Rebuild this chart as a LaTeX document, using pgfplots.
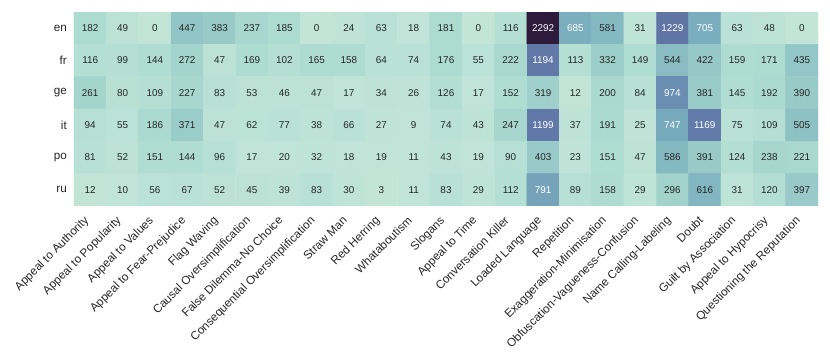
\documentclass[border=0pt]{standalone}
\usepackage{pgfplots}
\pgfplotsset{compat=1.18}
\usepackage{fontspec}
\setmainfont{Liberation Sans}

\begin{document}
\begin{tikzpicture}
\begin{axis}[
    name=hm,
    scale only axis,
    width=744pt, height=194pt,
    xmin=-0.5, xmax=22.5, ymin=-0.5, ymax=5.5,
    y dir=reverse,
    axis line style={draw=none},
    major tick length=0pt,
    xtick={0,...,22},
    xticklabels={Appeal to Authority, Appeal to Popularity, Appeal to Values,
        Appeal to Fear-Prejudice, Flag Waving, Causal Oversimplification,
        False Dilemma-No Choice, Consequential Oversimplification, Straw Man,
        Red Herring, Whataboutism, Slogans, Appeal to Time, Conversation Killer,
        Loaded Language, Repetition, Exaggeration-Minimisation,
        Obfuscation-Vagueness-Confusion, Name Calling-Labeling, Doubt,
        Guilt by Association, Appeal to Hypocrisy, Questioning the Reputation},
    ytick={0,...,5},
    yticklabels={en,fr,ge,it,po,ru},
    x tick label style={font=\fontsize{11.7}{13}\selectfont, text=black!85,
        inner sep=0pt, xshift=-7pt, yshift=-9pt, rotate=45, anchor=north east},
    y tick label style={font=\fontsize{11.7}{13}\selectfont, text=black!85,
        inner sep=0pt, xshift=-7pt},
    colormap={hm}{rgb255(0pt)=(194,229,216) rgb255(180pt)=(172,219,208)
        rgb255(450pt)=(146,198,198) rgb255(700pt)=(122,174,190)
        rgb255(975pt)=(106,142,178) rgb255(1200pt)=(98,120,168)
        rgb255(1700pt)=(78,72,125) rgb255(2292pt)=(46,26,58)},
    point meta min=0, point meta max=2292,
    /pgf/number format/.cd, fixed, precision=0, 1000 sep={}, assume math mode=true,
    /pgfplots/.cd,
]
\addplot[matrix plot*, mesh/cols=23, point meta=explicit,
    nodes near coords={\pgfmathfloattofixed{\pgfplotspointmeta}%
        \ifdim\pgfmathresult pt>650pt\color{white}\fi
        \pgfmathprintnumber{\pgfplotspointmeta}},
    nodes near coords style={anchor=center, inner sep=0pt, text=black!85,
        font=\fontsize{9.9}{11}\selectfont}]
coordinates {
(0,0)[182] (1,0)[49] (2,0)[0] (3,0)[447] (4,0)[383] (5,0)[237] (6,0)[185] (7,0)[0] (8,0)[24] (9,0)[63] (10,0)[18] (11,0)[181] (12,0)[0] (13,0)[116] (14,0)[2292] (15,0)[685] (16,0)[581] (17,0)[31] (18,0)[1229] (19,0)[705] (20,0)[63] (21,0)[48] (22,0)[0]

(0,1)[116] (1,1)[99] (2,1)[144] (3,1)[272] (4,1)[47] (5,1)[169] (6,1)[102] (7,1)[165] (8,1)[158] (9,1)[64] (10,1)[74] (11,1)[176] (12,1)[55] (13,1)[222] (14,1)[1194] (15,1)[113] (16,1)[332] (17,1)[149] (18,1)[544] (19,1)[422] (20,1)[159] (21,1)[171] (22,1)[435]

(0,2)[261] (1,2)[80] (2,2)[109] (3,2)[227] (4,2)[83] (5,2)[53] (6,2)[46] (7,2)[47] (8,2)[17] (9,2)[34] (10,2)[26] (11,2)[126] (12,2)[17] (13,2)[152] (14,2)[319] (15,2)[12] (16,2)[200] (17,2)[84] (18,2)[974] (19,2)[381] (20,2)[145] (21,2)[192] (22,2)[390]

(0,3)[94] (1,3)[55] (2,3)[186] (3,3)[371] (4,3)[47] (5,3)[62] (6,3)[77] (7,3)[38] (8,3)[66] (9,3)[27] (10,3)[9] (11,3)[74] (12,3)[43] (13,3)[247] (14,3)[1199] (15,3)[37] (16,3)[191] (17,3)[25] (18,3)[747] (19,3)[1169] (20,3)[75] (21,3)[109] (22,3)[505]

(0,4)[81] (1,4)[52] (2,4)[151] (3,4)[144] (4,4)[96] (5,4)[17] (6,4)[20] (7,4)[32] (8,4)[18] (9,4)[19] (10,4)[11] (11,4)[43] (12,4)[19] (13,4)[90] (14,4)[403] (15,4)[23] (16,4)[151] (17,4)[47] (18,4)[586] (19,4)[391] (20,4)[124] (21,4)[238] (22,4)[221]

(0,5)[12] (1,5)[10] (2,5)[56] (3,5)[67] (4,5)[52] (5,5)[45] (6,5)[39] (7,5)[83] (8,5)[30] (9,5)[3] (10,5)[11] (11,5)[83] (12,5)[29] (13,5)[112] (14,5)[791] (15,5)[89] (16,5)[158] (17,5)[29] (18,5)[296] (19,5)[616] (20,5)[31] (21,5)[120] (22,5)[397]
};
\end{axis}
\pgfresetboundingbox
\path (hm.south west) ++(-74pt,-158pt) rectangle ([shift={(12pt,12pt)}]hm.north east);
\end{tikzpicture}
\end{document}
